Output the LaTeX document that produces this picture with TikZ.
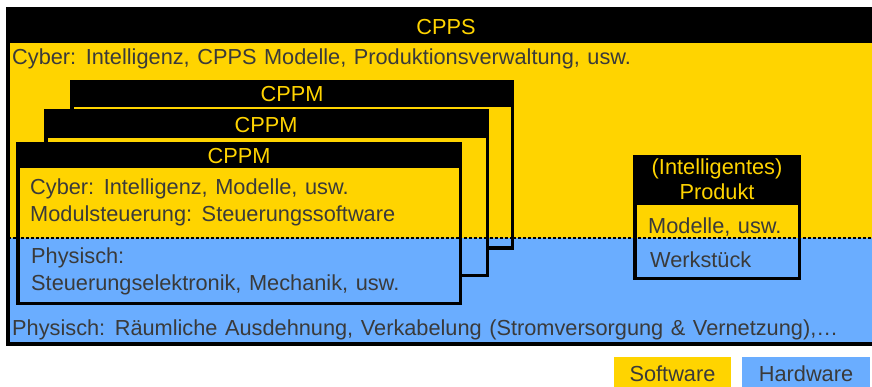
\documentclass[tikz,border=0pt]{standalone}
\usepackage{fontspec}
\setmainfont[WordSpace={1.25,1,1}]{Liberation Sans}
\definecolor{cyb}{RGB}{255,212,0}
\definecolor{phy}{RGB}{106,173,255}
\definecolor{ink}{RGB}{58,58,58}
% layered box: x1 y1 x2 y2 (outer extents), bottom of the black title bar
\newcommand\layerbox[5]{%
  \fill[cyb] (#1,#2) rectangle (#3,238);
  \fill[phy] (#1,238) rectangle (#3,#4);
  \draw[sep] (#1,238) -- (#3,238);
  \fill[black] (#1,#2) rectangle (#3,#5);
  \draw[frame] (#1+1.75,#2+1.75) rectangle (#3-1.75,#4-1.75);
}
\begin{document}
\begin{tikzpicture}[x=1pt,y=-1pt,
  txt/.style={font=\fontsize{21.75}{26}\selectfont, text=ink, inner sep=0pt},
  head/.style={font=\fontsize{21.75}{26}\selectfont, text=cyb, inner sep=0pt},
  frame/.style={draw=black, line width=3.5pt},
  sep/.style={dash pattern=on 3pt off 2pt, line width=1.1pt, draw=black}]
\useasboundingbox (0,0) rectangle (872,387);

% CPPS frame with cyber and physical bands
\fill[cyb] (8,9) rectangle (876,238);
\fill[phy] (8,238) rectangle (876,344);
\draw[sep] (8,238) -- (876,238);
\fill[black] (8,7) rectangle (876,43);
\draw[line width=4pt] (8,9) rectangle (876,344);
\node[head, anchor=base] (cpps) at (446,35) {CPPS};
\node[txt, anchor=base west] (cppscyber) at (12,65)
  {Cyber: Intelligenz, CPPS Modelle, Produktionsverwaltung, usw.};
\node[txt, anchor=base west] (cppsphys) at (12,335)
  {Physisch: Räumliche Ausdehnung, Verkabelung (Stromversorgung \& Vernetzung),\dots};

% stacked CPPM modules, back to front
\layerbox{70}{80}{514}{250}{107}
\node[head, anchor=base] (cppm3) at (292,102) {CPPM};
\layerbox{44}{109}{489}{277}{138}
\node[head, anchor=base] (cppm2) at (266,133) {CPPM};
\layerbox{16}{142}{462}{305}{168}
\node[head, anchor=base] (cppm1) at (239,164) {CPPM};
\node[txt, anchor=base west] (m1cyb) at (30,195) {Cyber: Intelligenz, Modelle, usw.};
\node[txt, anchor=base west] (m1ctl) at (30,222) {Modulsteuerung: Steuerungssoftware};
\node[txt, anchor=base west] (m1phy) at (31,264) {Physisch:};
\node[txt, anchor=base west] (m1hw) at (31,290) {Steuerungselektronik, Mechanik, usw.};

% intelligent product
\layerbox{633}{155}{801}{280}{205}
\node[head, anchor=base] (prod1) at (717,175) {(Intelligentes)};
\node[head, anchor=base] (prod2) at (717,200) {Produkt};
\node[txt, anchor=base west] (prodsw) at (648,234) {Modelle, usw.};
\node[txt, anchor=base west] (prodhw) at (650,267) {Werkstück};

% legend
\fill[cyb] (614,357) rectangle (731,390);
\node[txt, anchor=base] (legsw) at (672.5,381) {Software};
\fill[phy] (742,357) rectangle (870,390);
\node[txt, anchor=base] (leghw) at (806,381) {Hardware};
\end{tikzpicture}
\end{document}
